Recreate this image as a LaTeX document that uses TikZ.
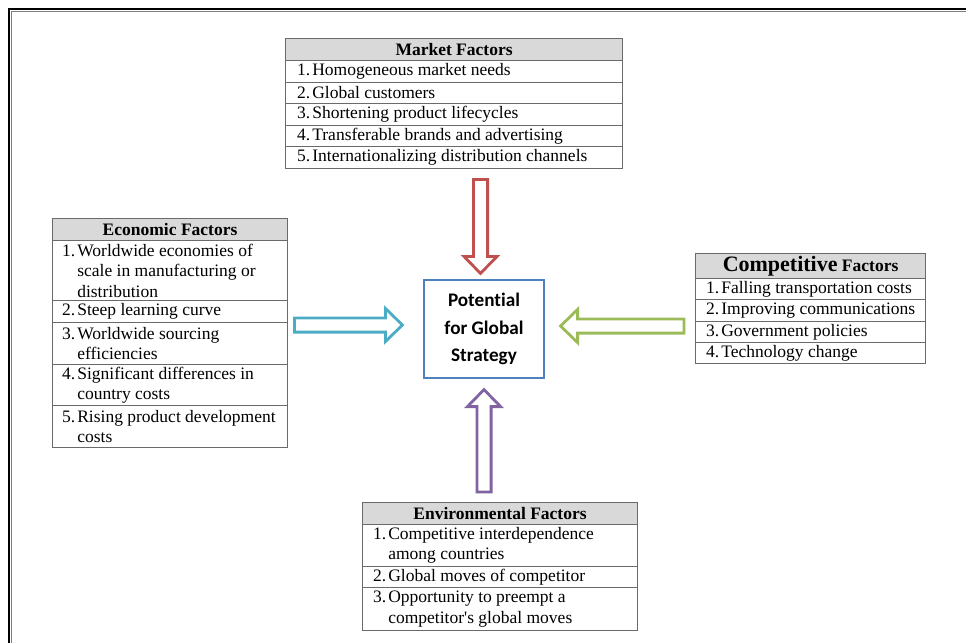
\documentclass[tikz,border=0pt]{standalone}
\usepackage{fontspec}
\setmainfont{Liberation Serif}
\newfontfamily\corefont[Ligatures=NoCommon]{Carlito}
\usetikzlibrary{calc}

\definecolor{cellline}{HTML}{6A6A6A}
\definecolor{hdrfill}{HTML}{D9D9D9}
\definecolor{boxblue}{HTML}{4F81BD}
\definecolor{arrred}{HTML}{C0504D}
\definecolor{arrcyan}{HTML}{4BACC6}
\definecolor{arrgreen}{HTML}{9BBB59}
\definecolor{arrpurple}{HTML}{8064A2}

\newcommand\tabsize{\fontsize{17.5}{20.5}\selectfont}
\newcommand\nb[1]{#1.\hspace{2pt}}
\newcommand\ind{\hphantom{1.\hspace{2pt}}}
% straight typewriter-style apostrophe
\newcommand\sq{{\XeTeXglyph\XeTeXcharglyph"0027\relax}}

% a table cell: name, x, y (top left), width, height, left padding, text
\newcommand\cell[7]{%
  \node[cellbox, minimum width=#4pt, minimum height=#5pt] (#1) at (#2,#3) {};
  \node[celltext] (#1-t) at ([xshift=#6pt]#1.west) {#7};}
% a grey header cell: name, x, y, width, height, text
\newcommand\hdr[6]{%
  \node[hdrbox, minimum width=#4pt, minimum height=#5pt] (#1) at (#2,#3) {};
  \node[hdrtext] (#1-t) at (#1.center) {#6};}

% hollow block arrow: colour, tail, tip, direction dx, dy
\newcommand\arrsw{7.1}
\newcommand\arrhw{16.6}
\newcommand\arrhl{17}
\newcommand\fatarrow[5]{%
  \draw[fatline, draw=#1]
    ($(#2)+({-\arrsw*(#5)},{\arrsw*(#4)})$) --
    ($(#3)+({-\arrhl*(#4)-\arrsw*(#5)},{-\arrhl*(#5)+\arrsw*(#4)})$) --
    ($(#3)+({-\arrhl*(#4)-\arrhw*(#5)},{-\arrhl*(#5)+\arrhw*(#4)})$) --
    (#3) --
    ($(#3)+({-\arrhl*(#4)+\arrhw*(#5)},{-\arrhl*(#5)-\arrhw*(#4)})$) --
    ($(#3)+({-\arrhl*(#4)+\arrsw*(#5)},{-\arrhl*(#5)-\arrsw*(#4)})$) --
    ($(#2)+({\arrsw*(#5)},{-\arrsw*(#4)})$) -- cycle;}

\begin{document}
\begin{tikzpicture}[x=1pt, y=-1pt,
  cellbox/.style={draw=cellline, line width=1.1pt, anchor=north west, inner sep=0pt},
  hdrbox/.style={cellbox, fill=hdrfill},
  celltext/.style={anchor=west, inner sep=0pt, align=left, font=\tabsize},
  hdrtext/.style={inner sep=0pt, align=center, font=\tabsize\bfseries},
  core/.style={draw=boxblue, line width=1.2pt, fill=white, align=center,
    minimum width=120pt, minimum height=98pt, inner sep=0pt,
    font=\corefont\bfseries\fontsize{19.2}{27.5}\selectfont},
  fatline/.style={line width=2.8pt, line join=miter, fill=white}]

\useasboundingbox (0,0) rectangle (966,643);

% page frame
\draw[line width=2.6pt] (9,643) -- (9,9) -- (966,9);
\draw[gray, line width=0.8pt] (10.9,643) -- (10.9,10.9) -- (966,10.9);

% market factors
\hdr{mk0}{285}{38}{337}{22}{Market Factors}
\cell{mk1}{285}{60}{337}{21.5}{12}{\nb{1}Homogeneous market needs}
\cell{mk2}{285}{81.5}{337}{21.5}{12}{\nb{2}Global customers}
\cell{mk3}{285}{103}{337}{21.5}{12}{\nb{3}Shortening product lifecycles}
\cell{mk4}{285}{124.5}{337}{21.5}{12}{\nb{4}Transferable brands and advertising}
\cell{mk5}{285}{146}{337}{21.5}{12}{\nb{5}Internationalizing distribution channels}

% economic factors
\hdr{ec0}{52}{218}{235}{22}{Economic Factors}
\cell{ec1}{52}{240}{235}{60}{10}{\nb{1}Worldwide economies of\\\ind scale in manufacturing or\\\ind distribution}
\cell{ec2}{52}{300}{235}{22}{10}{\nb{2}Steep learning curve}
\cell{ec3}{52}{322}{235}{42}{10}{\nb{3}Worldwide sourcing\\\ind efficiencies}
\cell{ec4}{52}{364}{235}{41}{10}{\nb{4}Significant differences in\\\ind country costs}
\cell{ec5}{52}{405}{235}{42}{10}{\nb{5}Rising product development\\\ind costs}

% competitive factors
\hdr{cp0}{695}{253}{230}{25}{{\fontsize{22}{24}\selectfont Competitive} Factors}
\cell{cp1}{695}{278}{230}{21.3}{11}{\nb{1}Falling transportation costs}
\cell{cp2}{695}{299.3}{230}{21.3}{11}{\nb{2}Improving communications}
\cell{cp3}{695}{320.6}{230}{21.3}{11}{\nb{3}Government policies}
\cell{cp4}{695}{341.9}{230}{21.1}{11}{\nb{4}Technology change}

% environmental factors
\hdr{en0}{362}{502}{275}{22}{Environmental Factors}
\cell{en1}{362}{524}{275}{42}{11}{\nb{1}Competitive interdependence\\\ind among countries}
\cell{en2}{362}{566}{275}{21}{11}{\nb{2}Global moves of competitor}
\cell{en3}{362}{587}{275}{43}{11}{\nb{3}Opportunity to preempt a\\\ind competitor\sq s global moves}

% central box
\node[core] (core) at (484,329) {Potential\\for Global\\Strategy};

% block arrows towards the centre
\coordinate (redtail) at (480.5,179.5);
\coordinate (redtip) at ($(core.north)+(-3.5,-6)$);
\coordinate (cyantail) at (294.5,325);
\coordinate (cyantip) at ($(core.west)+(-21,-4)$);
\coordinate (greentail) at (684,326);
\coordinate (greentip) at ($(core.east)+(16,-3)$);
\coordinate (purpletail) at (484,492);
\coordinate (purpletip) at ($(core.south)+(0,11)$);

\fatarrow{arrred}{redtail}{redtip}{0}{1}
\fatarrow{arrcyan}{cyantail}{cyantip}{1}{0}
\fatarrow{arrgreen}{greentail}{greentip}{-1}{0}
\fatarrow{arrpurple}{purpletail}{purpletip}{0}{-1}

\end{tikzpicture}
\end{document}
